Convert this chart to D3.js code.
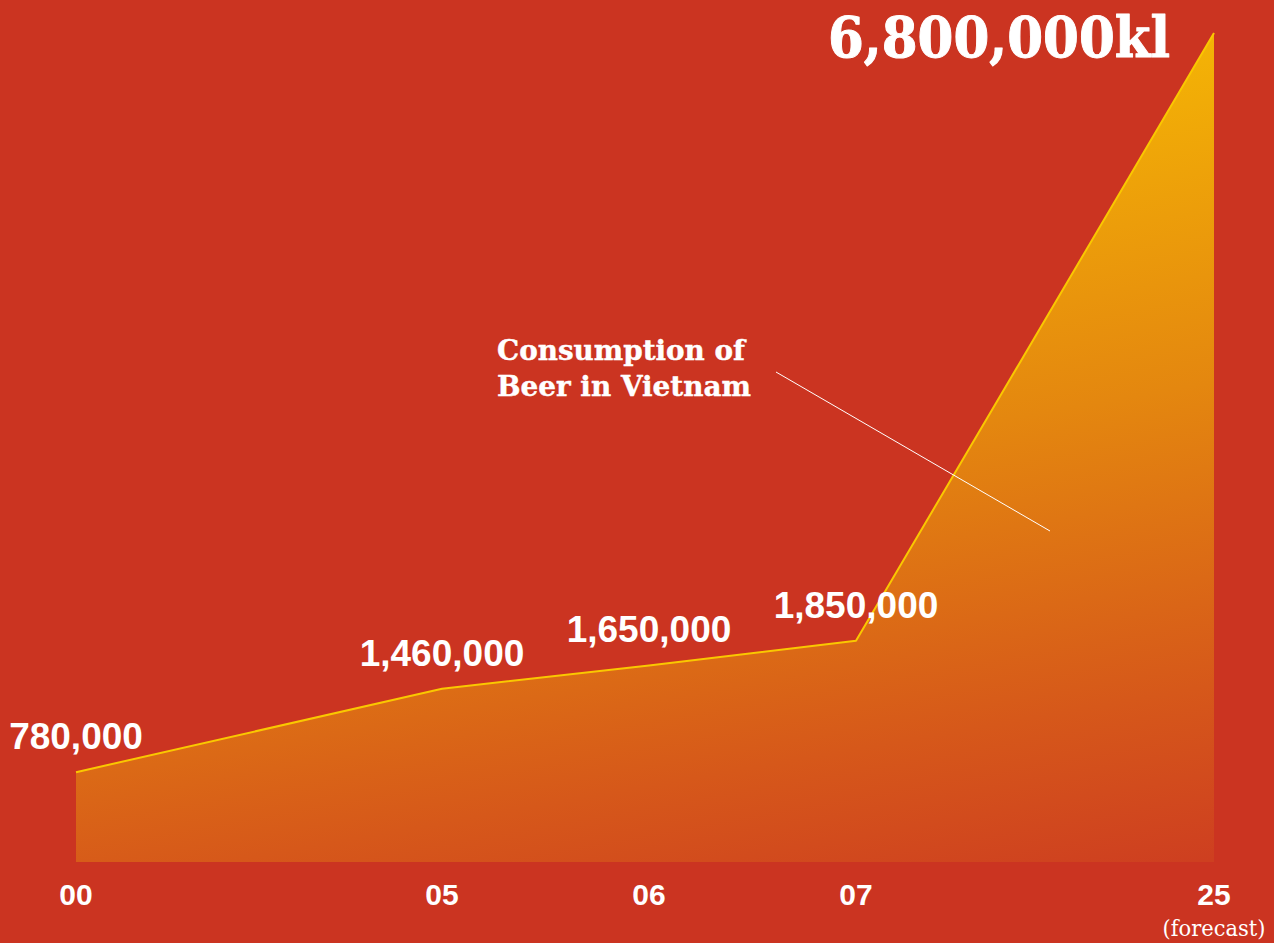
<!DOCTYPE html>
<html>
<head>
<meta charset="utf-8">
<script src="https://cdn.jsdelivr.net/npm/d3@7"></script>
<style>
html,body{margin:0;padding:0;background:#CB3421;}
svg{display:block;}
</style>
</head>
<body>
<svg id="chart" width="1274" height="943"></svg>
<script>
const years = [2000, 2005, 2006, 2007, 2025];
const yearLabels = ["00", "05", "06", "07", "25"];
const values = [780000, 1460000, 1650000, 1850000, 6800000];
const valueLabels = ["780,000", "1,460,000", "1,650,000", "1,850,000"];
const totalLabel = "6,800,000kl";
const titleLines = ["Consumption of", "Beer in Vietnam"];
const forecastNote = "(forecast)";

const W = 1274, H = 943;
const baseY = 862;
const svg = d3.select("#chart");

svg.append("rect").attr("width", W).attr("height", H).attr("fill", "#CB3421");

const x = d3.scaleLinear().domain([2000, 2005, 2007, 2025]).range([76, 442, 856, 1214]);
const y = d3.scaleLinear().domain([0, 6800000]).range([868, 33]);

const data = years.map((yr, i) => ({ yr, v: values[i] }));

const defs = svg.append("defs");
const grad = defs.append("linearGradient").attr("id", "areaGrad")
  .attr("gradientUnits", "userSpaceOnUse")
  .attr("x1", 1000).attr("y1", 30).attr("x2", 1150).attr("y2", 870);
grad.append("stop").attr("offset", 0).attr("stop-color", "#F6B904");
grad.append("stop").attr("offset", 0.45).attr("stop-color", "#E4870F");
grad.append("stop").attr("offset", 0.8).attr("stop-color", "#D6581A");
grad.append("stop").attr("offset", 1).attr("stop-color", "#CE3F20");

const area = d3.area().x(d => x(d.yr)).y0(baseY).y1(d => y(d.v));
svg.append("path").datum(data).attr("d", area).attr("fill", "url(#areaGrad)");

const line = d3.line().x(d => x(d.yr)).y(d => y(d.v));
svg.append("path").datum(data).attr("d", line)
  .attr("fill", "none").attr("stroke", "#FAC800").attr("stroke-width", 2)
  .attr("stroke-linejoin", "round");

// value labels
svg.selectAll(".vlab").data(data.slice(0, 4)).enter().append("text")
  .attr("class", "vlab")
  .attr("x", d => x(d.yr))
  .attr("y", d => y(d.v) - 23)
  .attr("text-anchor", "middle")
  .attr("font-family", "'Liberation Sans', Arial, sans-serif")
  .attr("font-weight", "bold")
  .attr("font-size", 37)
  .attr("fill", "#fff")
  .text((d, i) => valueLabels[i]);

// total label
svg.append("text")
  .attr("x", 828).attr("y", 57)
  .attr("font-family", "'DejaVu Serif', serif")
  .attr("font-weight", "bold")
  .attr("font-size", 56)
  .attr("textLength", 342)
  .attr("lengthAdjust", "spacingAndGlyphs")
  .attr("fill", "#fff")
  .attr("stroke", "#fff").attr("stroke-width", 1).attr("stroke-linejoin", "round")
  .text(totalLabel);

// year labels
svg.selectAll(".xlab").data(data).enter().append("text")
  .attr("class", "xlab")
  .attr("x", d => x(d.yr))
  .attr("y", 905)
  .attr("text-anchor", "middle")
  .attr("font-family", "'Liberation Sans', Arial, sans-serif")
  .attr("font-weight", "bold")
  .attr("font-size", 30)
  .attr("fill", "#fff")
  .text((d, i) => yearLabels[i]);

svg.append("text")
  .attr("x", x(2025)).attr("y", 936)
  .attr("text-anchor", "middle")
  .attr("font-family", "'DejaVu Serif', serif")
  .attr("font-weight", "normal")
  .attr("font-size", 22)
  .attr("textLength", 103)
  .attr("lengthAdjust", "spacingAndGlyphs")
  .attr("fill", "#fff")
  .text(forecastNote);

// title
svg.selectAll(".title").data(titleLines).enter().append("text")
  .attr("class", "title")
  .attr("x", 497)
  .attr("y", (d, i) => 360 + i * 36)
  .attr("font-family", "'DejaVu Serif', serif")
  .attr("font-weight", "bold")
  .attr("font-size", 27)
  .attr("textLength", (d, i) => i === 0 ? 248 : 254)
  .attr("lengthAdjust", "spacingAndGlyphs")
  .attr("fill", "#fff")
  .attr("stroke", "#fff").attr("stroke-width", 0.4).attr("stroke-linejoin", "round")
  .text(d => d);

// leader line
svg.append("line")
  .attr("x1", 776).attr("y1", 372).attr("x2", 1050).attr("y2", 531)
  .attr("stroke", "#fff").attr("stroke-width", 1);
</script>
</body>
</html>
